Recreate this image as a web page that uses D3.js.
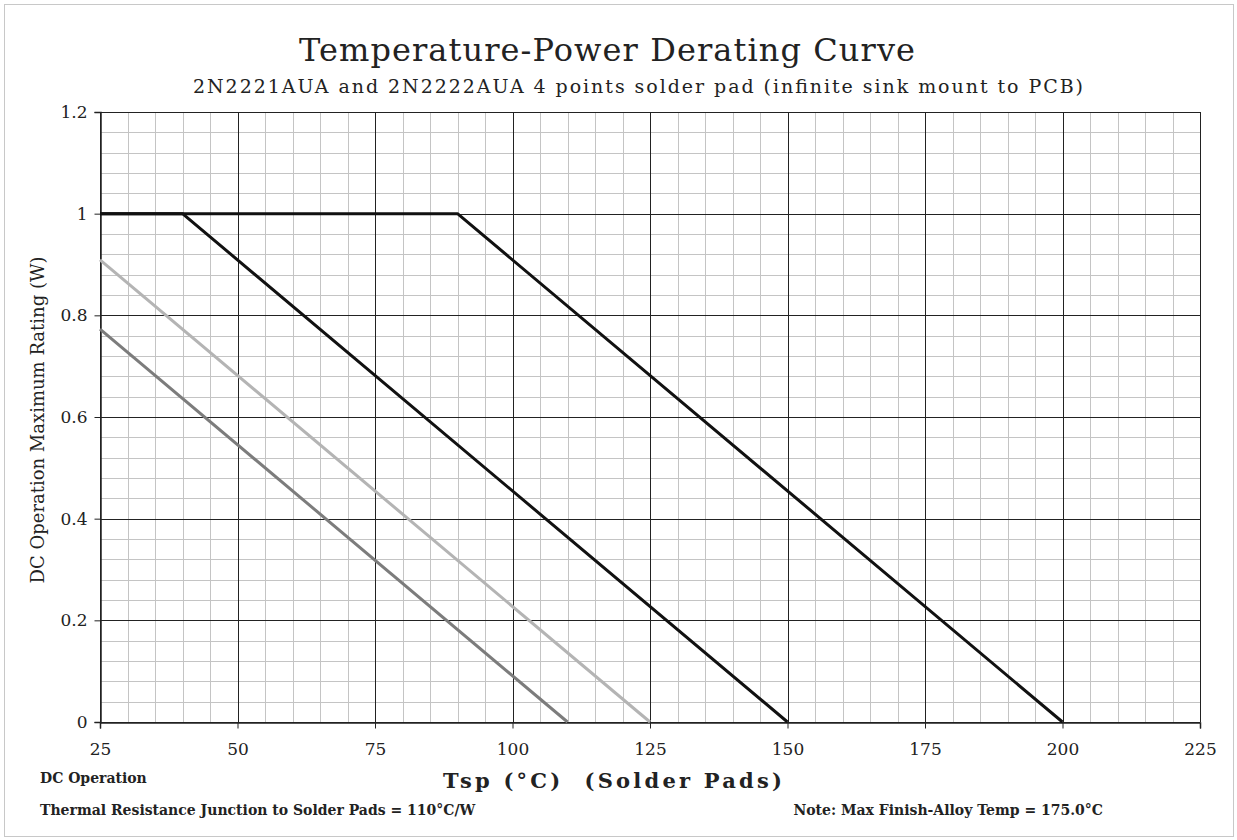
<!DOCTYPE html>
<html>
<head>
<meta charset="utf-8">
<script src="https://cdn.jsdelivr.net/npm/d3@7"></script>
<style>
  body { margin: 0; background: #fff; }
  text { font-family: "DejaVu Serif", "Liberation Serif", serif; fill: #222; }
</style>
</head>
<body>
<div id="canvas"></div>
<script>
// derating curves, Tsp (°C) vs power (W)
const curveA = [{ t: 25, p: 1 }, { t: 90, p: 1 }, { t: 200, p: 0 }];
const curveB = [{ t: 25, p: 1 }, { t: 40, p: 1 }, { t: 150, p: 0 }];
const curveC = [{ t: 25, p: 0.909 }, { t: 125, p: 0 }];
const curveD = [{ t: 25, p: 0.773 }, { t: 110, p: 0 }];
const curveColors = ["#111", "#111", "#b4b4b4", "#7c7c7c"];

const xTicks = [25, 50, 75, 100, 125, 150, 175, 200, 225];
const yTicks = [0, 0.2, 0.4, 0.6, 0.8, 1, 1.2];
const xMinor = d3.range(25, 226, 5);
const yMinor = d3.range(0, 1.2001, 0.04);

const W = 1237, H = 840;
const margin = { top: 112, right: 37, bottom: 118, left: 100 },
    width = W - margin.left - margin.right,
    height = H - margin.top - margin.bottom;

const root = d3.select("#canvas")
    .append("svg")
    .attr("width", W)
    .attr("height", H);

root.append("rect")
    .attr("x", 4.5).attr("y", 4.5)
    .attr("width", W - 8).attr("height", H - 8)
    .attr("fill", "none")
    .attr("stroke", "#c8c8c8");

const svg = root.append("g")
    .attr("transform", `translate(${margin.left},${margin.top})`);

const x = d3.scaleLinear().domain([25, 225]).range([0, width]);
const y = d3.scaleLinear().domain([0, 1.2]).range([height, 0]);

// minor grid
svg.append("g")
    .selectAll("line")
    .data(xMinor)
    .join("line")
    .attr("x1", d => Math.round(x(d)) + 0.5).attr("x2", d => Math.round(x(d)) + 0.5)
    .attr("y1", 0).attr("y2", height)
    .attr("stroke", "#c4c4c4");
svg.append("g")
    .selectAll("line")
    .data(yMinor)
    .join("line")
    .attr("y1", d => Math.round(y(d)) + 0.5).attr("y2", d => Math.round(y(d)) + 0.5)
    .attr("x1", 0).attr("x2", width)
    .attr("stroke", "#c4c4c4");

// major grid
svg.append("g")
    .selectAll("line")
    .data(xTicks)
    .join("line")
    .attr("x1", d => Math.round(x(d)) + 0.5).attr("x2", d => Math.round(x(d)) + 0.5)
    .attr("y1", 0).attr("y2", height)
    .attr("stroke", "#222");
svg.append("g")
    .selectAll("line")
    .data(yTicks)
    .join("line")
    .attr("y1", d => Math.round(y(d)) + 0.5).attr("y2", d => Math.round(y(d)) + 0.5)
    .attr("x1", 0).attr("x2", width)
    .attr("stroke", "#222");

// axes
const xAxis = svg.append("g")
    .attr("transform", `translate(0,${Math.round(height) + 0.5})`)
    .call(d3.axisBottom(x).tickValues(xTicks).tickSize(6).tickPadding(14).tickFormat(d3.format("d")));
const yAxis = svg.append("g")
    .attr("transform", "translate(0.5,0)")
    .call(d3.axisLeft(y).tickValues(yTicks).tickSize(6).tickPadding(7).tickFormat(d => d === 0 || d === 1 ? d : d3.format(".1f")(d)));

[xAxis, yAxis].forEach(a => {
    a.select(".domain").attr("stroke", "#222").attr("stroke-width", 1.5);
    a.selectAll(".tick line").attr("stroke", "#222");
    a.selectAll("text").attr("font-size", 17).attr("font-family", "DejaVu Serif").attr("fill", "#222");
});

// curves
const line = d3.line().x(d => x(d.t)).y(d => y(d.p));
[curveD, curveC, curveA, curveB].forEach((c, i) => {
    const color = [curveColors[3], curveColors[2], curveColors[0], curveColors[1]][i];
    svg.append("path")
        .datum(c)
        .attr("fill", "none")
        .attr("stroke", color)
        .attr("stroke-width", 3)
        .attr("stroke-linejoin", "round")
        .attr("d", line);
});

// titles
root.append("text")
    .attr("x", 299).attr("y", 61)
    .attr("font-size", 32)
    .attr("fill", "#3a3a3a")
    .attr("textLength", 616)
    .attr("lengthAdjust", "spacing")
    .text("Temperature-Power Derating Curve");
root.append("text")
    .attr("x", 193).attr("y", 93)
    .attr("font-size", 19)
    .attr("textLength", 890)
    .attr("lengthAdjust", "spacing")
    .text("2N2221AUA and 2N2222AUA 4 points solder pad (infinite sink mount to PCB)");

root.append("text")
    .attr("transform", "translate(44,420) rotate(-90)")
    .attr("text-anchor", "middle")
    .attr("font-size", 18)
    .text("DC Operation Maximum Rating (W)");

root.append("text")
    .attr("x", 443).attr("y", 788)
    .attr("font-size", 21)
    .attr("font-weight", "bold")
    .attr("xml:space", "preserve")
    .attr("textLength", 339)
    .attr("lengthAdjust", "spacing")
    .text("Tsp (°C)  (Solder Pads)");

root.append("text")
    .attr("x", 40).attr("y", 783)
    .attr("font-size", 14)
    .attr("font-weight", "bold")
    .text("DC Operation");
root.append("text")
    .attr("x", 40).attr("y", 815)
    .attr("font-size", 14)
    .attr("font-weight", "bold")
    .text("Thermal Resistance Junction to Solder Pads = 110°C/W");
root.append("text")
    .attr("x", 1103).attr("y", 815)
    .attr("text-anchor", "end")
    .attr("font-size", 14)
    .attr("font-weight", "bold")
    .text("Note: Max Finish-Alloy Temp = 175.0°C");
</script>
</body>
</html>
